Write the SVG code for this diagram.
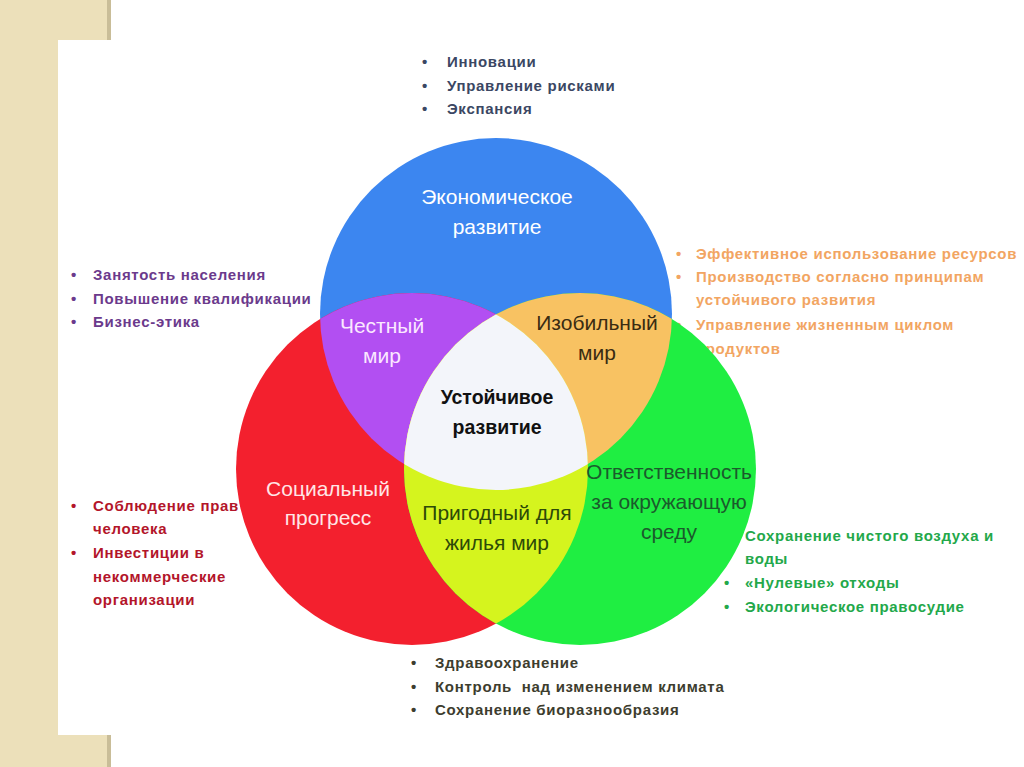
<svg xmlns="http://www.w3.org/2000/svg" width="1024" height="767" viewBox="0 0 1024 767">
<style>
.b{font-family:"Liberation Sans",Arial,sans-serif;font-weight:bold;font-size:15px;letter-spacing:0.7px;white-space:pre}
.c{font-family:"Liberation Sans",Arial,sans-serif;font-size:21px;text-anchor:middle}
.cb{font-family:"Liberation Sans",Arial,sans-serif;font-size:19.5px;font-weight:bold;text-anchor:middle}
.top{fill:#3b4763}.pur{fill:#6b3a8c}.org{fill:#f2a562}.red{fill:#b3152a}.grn{fill:#23a84a}.gry{fill:#3d3d2e}
</style>
<rect width="1024" height="767" fill="#ffffff"/>
<path d="M0 0H111V40H58V735H111V767H0Z" fill="#ece0ba"/>
<rect x="107" y="0" width="4" height="40" fill="#c9bd98"/>
<rect x="107" y="735" width="4" height="32" fill="#c9bd98"/>
<g id="texts-behind">
<g id="econ-list" class="b top">
<text x="422" y="67">•</text><text x="447" y="67">Инновации</text>
<text x="422" y="91">•</text><text x="447" y="91">Управление рисками</text>
<text x="422" y="114">•</text><text x="447" y="114">Экспансия</text>
</g>
<g id="fair-list" class="b pur">
<text x="71" y="280">•</text><text x="93" y="280">Занятость населения</text>
<text x="71" y="304">•</text><text x="93" y="304">Повышение квалификации</text>
<text x="71" y="327">•</text><text x="93" y="327">Бизнес-этика</text>
</g>
<g id="abund-list" class="b org">
<text x="676" y="259">•</text><text x="696" y="259">Эффективное использование ресурсов</text>
<text x="676" y="282">•</text><text x="696" y="282">Производство согласно принципам</text>
<text x="696" y="305">устойчивого развития</text>
<text x="676" y="330">•</text><text x="696" y="330">Управление жизненным циклом</text>
<text x="696" y="354">продуктов</text>
</g>
<g id="social-list" class="b red">
<text x="71" y="511">•</text><text x="93" y="511">Соблюдение прав</text>
<text x="93" y="534">человека</text>
<text x="71" y="558">•</text><text x="93" y="558">Инвестиции в</text>
<text x="93" y="582">некоммерческие</text>
<text x="93" y="605">организации</text>
</g>
<g id="env-list" class="b grn">
<text x="724" y="541">•</text><text x="745" y="541">Сохранение чистого воздуха и</text>
<text x="745" y="564">воды</text>
<text x="724" y="588">•</text><text x="745" y="588">«Нулевые» отходы</text>
<text x="724" y="612">•</text><text x="745" y="612">Экологическое правосудие</text>
</g>
</g>
<defs>
<clipPath id="cb"><circle cx="496" cy="314" r="176"/></clipPath>
<clipPath id="cr"><circle cx="412" cy="469" r="176"/></clipPath>
</defs>
<g id="circle-economic"><circle cx="496" cy="314" r="176" fill="#3c86f0"/></g>
<g id="circle-social"><circle cx="412" cy="469" r="176" fill="#f3202e"/></g>
<g id="circle-environment"><circle cx="580" cy="469" r="176" fill="#1fee42"/></g>
<g id="fair-world" clip-path="url(#cb)"><circle cx="412" cy="469" r="176" fill="#b24ff2"/></g>
<g id="abundant-world" clip-path="url(#cb)"><circle cx="580" cy="469" r="176" fill="#f8c262"/></g>
<g id="livable-world" clip-path="url(#cr)"><circle cx="580" cy="469" r="176" fill="#d5f41e"/></g>
<g id="sustainable" clip-path="url(#cb)"><g clip-path="url(#cr)"><circle cx="580" cy="469" r="176" fill="#f3f5fa"/></g></g>
<g id="labels">
<text class="c" x="497" y="204" fill="#ffffff">Экономическое</text>
<text class="c" x="497" y="234" fill="#ffffff">развитие</text>
<text class="c" x="382" y="333" fill="#fbe8ff">Честный</text>
<text class="c" x="382" y="363" fill="#fbe8ff">мир</text>
<text class="c" x="597" y="330" fill="#3a2c12">Изобильный</text>
<text class="c" x="597" y="360" fill="#3a2c12">мир</text>
<text class="cb" x="497" y="404" fill="#111111">Устойчивое</text>
<text class="cb" x="497" y="434" fill="#111111">развитие</text>
<text class="c" x="328" y="496" fill="#ffe6e6">Социальный</text>
<text class="c" x="328" y="525" fill="#ffe6e6">прогресс</text>
<text class="c" x="497" y="520" fill="#2d4a08">Пригодный для</text>
<text class="c" x="497" y="550" fill="#2d4a08">жилья мир</text>
<text class="c" x="669" y="479" fill="#1b5a2c">Ответственность</text>
<text class="c" x="669" y="509" fill="#1b5a2c">за окружающую</text>
<text class="c" x="669" y="539" fill="#1b5a2c">среду</text>
</g>
<g id="health-list" class="b gry">
<text x="411" y="668">•</text><text x="435" y="668">Здравоохранение</text>
<text x="411" y="692">•</text><text x="435" y="692" xml:space="preserve">Контроль  над изменением климата</text>
<text x="411" y="715">•</text><text x="435" y="715">Сохранение биоразнообразия</text>
</g>
</svg>
